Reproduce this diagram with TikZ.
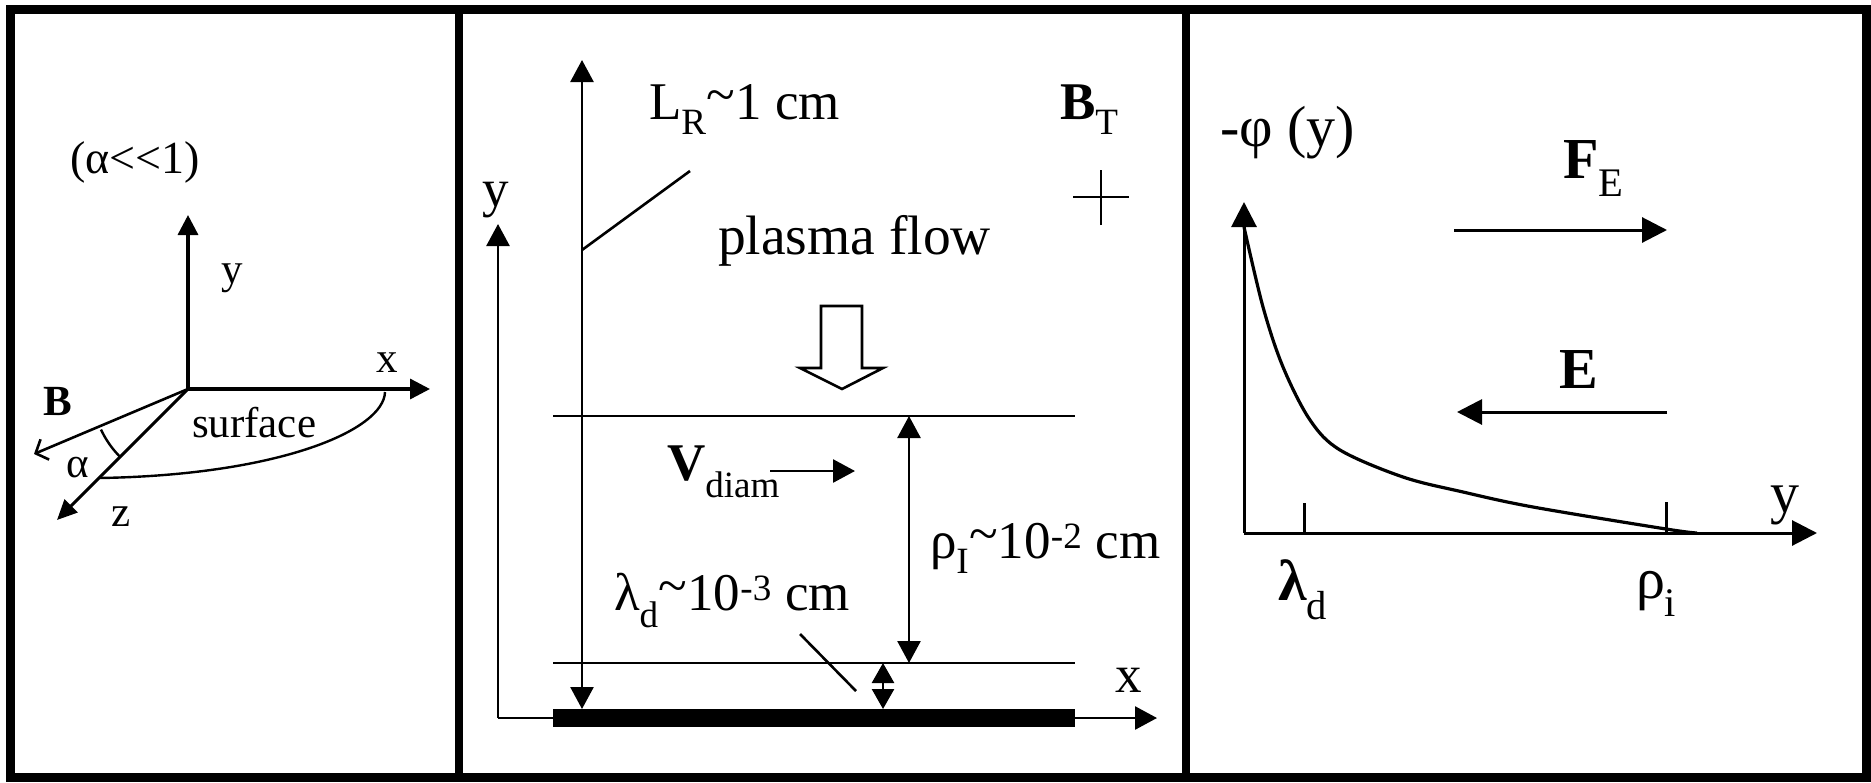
\documentclass[tikz,border=0pt]{standalone}
\usepackage{fontspec}
\setmainfont{Liberation Serif}
\usetikzlibrary{arrows.meta}
\newcommand\mytilde{\raisebox{0.25ex}{\textasciitilde}}
\begin{document}
\begin{tikzpicture}[x=1pt,y=-1pt,
  every node/.style={inner sep=0pt, outer sep=0pt},
  frame/.style={line width=9pt},
  divider/.style={line width=8pt},
  ln/.style={line width=2.6pt},
  axisA/.style={line width=3.4pt, -{Triangle[length=20pt,width=20pt]}},
  arr/.style={line width=2.6pt, -{Triangle[length=22pt,width=23pt]}},
  darr/.style={line width=2.6pt, {Triangle[length=22pt,width=23pt]}-{Triangle[length=22pt,width=23pt]}},
  arrC/.style={line width=3pt, -{Triangle[length=25pt,width=25pt]}},
  fA/.style={font=\fontsize{43}{48}\selectfont},
  fB/.style={font=\fontsize{53}{60}\selectfont},
  fC/.style={font=\fontsize{58}{64}\selectfont},
]
\useasboundingbox (0,0) rectangle (1871,782);
% frame
\draw[frame] (10.5,9.5) rectangle (1866.5,777.5);
\draw[divider] (459,9.5) -- (459,777.5);
\draw[divider] (1186,9.5) -- (1186,777.5);

% ---------- panel 1 ----------
\coordinate (O) at (188,389);
\coordinate (Ytip) at (188,215);
\coordinate (Xtip) at (430,389);
\coordinate (Ztip) at (57,520);
\coordinate (Btip) at (34,454);
\draw[line width=2.4pt] (385,392) .. controls (384,430) and (280,475) .. (100,478);
\draw[axisA] (O) -- (Ytip);
\draw[axisA] (O) -- (Xtip);
\draw[line width=3pt, -{Triangle[length=20pt,width=18pt]}] (O) -- (Ztip);
\draw[line width=2.6pt, -{Straight Barb[length=10pt,width=22pt]}] (O) -- (Btip);
\draw[line width=2.4pt] (O) ++(155:96) arc[start angle=155, end angle=135, radius=96];
\node[font=\fontsize{46}{50}\selectfont, anchor=base west] (cond) at (70,173) {(α<{}<1)};
\node[fA, anchor=base] (ylab1) at (232,283) {y};
\node[fA, anchor=base] (xlab1) at (387,372) {x};
\node[fA, anchor=base] (zlab1) at (121,526) {z};
\node[fA, anchor=base west] (Blab) at (43,415) {\textbf{B}};
\node[fA, anchor=base west] (alab) at (66,477) {α};
\node[fA, anchor=base west] (surf) at (192,437) {surface};

% ---------- panel 2 ----------
\coordinate (P2o) at (498,718);
\coordinate (P2y) at (498,224);
\coordinate (P2x) at (1157,718);
\draw[arr] (P2o) -- (P2y);
\draw[arr] (P2o) -- (P2x);
\coordinate (LRt) at (582,60);
\coordinate (LRb) at (582,709);
\draw[darr] (LRb) -- (LRt);
\coordinate (U1) at (553,416);
\coordinate (U2) at (1075,416);
\coordinate (D1) at (553,663);
\coordinate (D2) at (1075,663);
\draw[ln] (U1) -- (U2);
\draw[ln] (D1) -- (D2);
\fill (553,709) rectangle (1075,727);
\coordinate (R1) at (909,416);
\coordinate (R2) at (909,663);
\draw[darr] (R1) -- (R2);
\coordinate (L1) at (883,663);
\coordinate (L2) at (883,709);
\draw[line width=2.6pt, {Triangle[length=20pt,width=22pt]}-{Triangle[length=20pt,width=22pt]}] (L1) -- (L2);
\coordinate (lp1) at (800,634);
\coordinate (lp2) at (856,691);
\draw[ln] (lp1) -- (lp2);
\coordinate (V1) at (770,471);
\coordinate (V2) at (855,471);
\draw[arr] (V1) -- (V2);
\coordinate (Lp1) at (582,250);
\coordinate (Lp2) at (690,171);
\draw[ln] (Lp1) -- (Lp2);
\draw[line width=2.6pt, fill=white] (821,306) -- (862,306) -- (862,368) -- (883,368) -- (842,389) -- (800,368) -- (821,368) -- cycle;
\coordinate (pc) at (1101,197);
\draw[ln] ([xshift=-28pt]pc) -- ([xshift=28pt]pc);
\draw[ln] ([yshift=-28pt]pc) -- ([yshift=27pt]pc);
\node[fB, anchor=base] (ylab2) at (496,206) {y};
\node[fB, anchor=base] (xlab2) at (1129,692) {x};
\node[fB, anchor=base west] (LR) at (649,119) {L\textsubscript{R}\mytilde1 cm};
\node[fB, anchor=base west] (BT) at (1060,119) {\textbf{B}\textsubscript{T}};
\node[font=\fontsize{55.5}{60}\selectfont, anchor=base west] (flow) at (718,254) {plasma flow};
\node[fB, anchor=base west] (Vd) at (667,480) {\textbf{V}\textsubscript{diam}};
\node[fB, anchor=base west] (rho) at (930,558) {ρ\textsubscript{I}\mytilde10\textsuperscript{-2} cm};
\node[fB, anchor=base west] (lam) at (614,610) {λ\textsubscript{d}\mytilde10\textsuperscript{-3} cm};

% ---------- panel 3 ----------
\coordinate (P3o) at (1244,533);
\coordinate (P3y) at (1244,202);
\coordinate (P3x) at (1817,533);
\draw[arrC] (P3o) -- (P3y);
\draw[arrC] (P3o) -- (P3x);
\draw[line width=3pt] (1304,503) -- (1304,533);
\draw[line width=3pt] (1666,502) -- (1666,533);
\draw[line width=3.2pt] plot[smooth, tension=0.55] coordinates {(1244,227) (1263,307) (1283,367) (1310,420) (1340,450) (1403,477) (1463,492) (1533,507) (1666,529) (1697,533)};
\coordinate (F1) at (1454,230);
\coordinate (F2) at (1667,230);
\draw[arrC] (F1) -- (F2);
\coordinate (E1) at (1667,412);
\coordinate (E2) at (1457,412);
\draw[arrC] (E1) -- (E2);
\node[fC, anchor=base west] (phi) at (1220,146) {-φ (y)};
\node[fC, anchor=base west] (FE) at (1563,178) {\textbf{F}\textsubscript{E}};
\node[fC, anchor=base west] (Elab) at (1559,388) {\textbf{E}};
\node[fC, anchor=base] (ylab3) at (1785,512) {y};
\node[fC, anchor=base west] (lamd) at (1278,600) {\textbf{λ}\textsubscript{d}};
\node[fC, anchor=base west] (rhoi) at (1636,598) {ρ\textsubscript{i}};
\end{tikzpicture}
\end{document}
